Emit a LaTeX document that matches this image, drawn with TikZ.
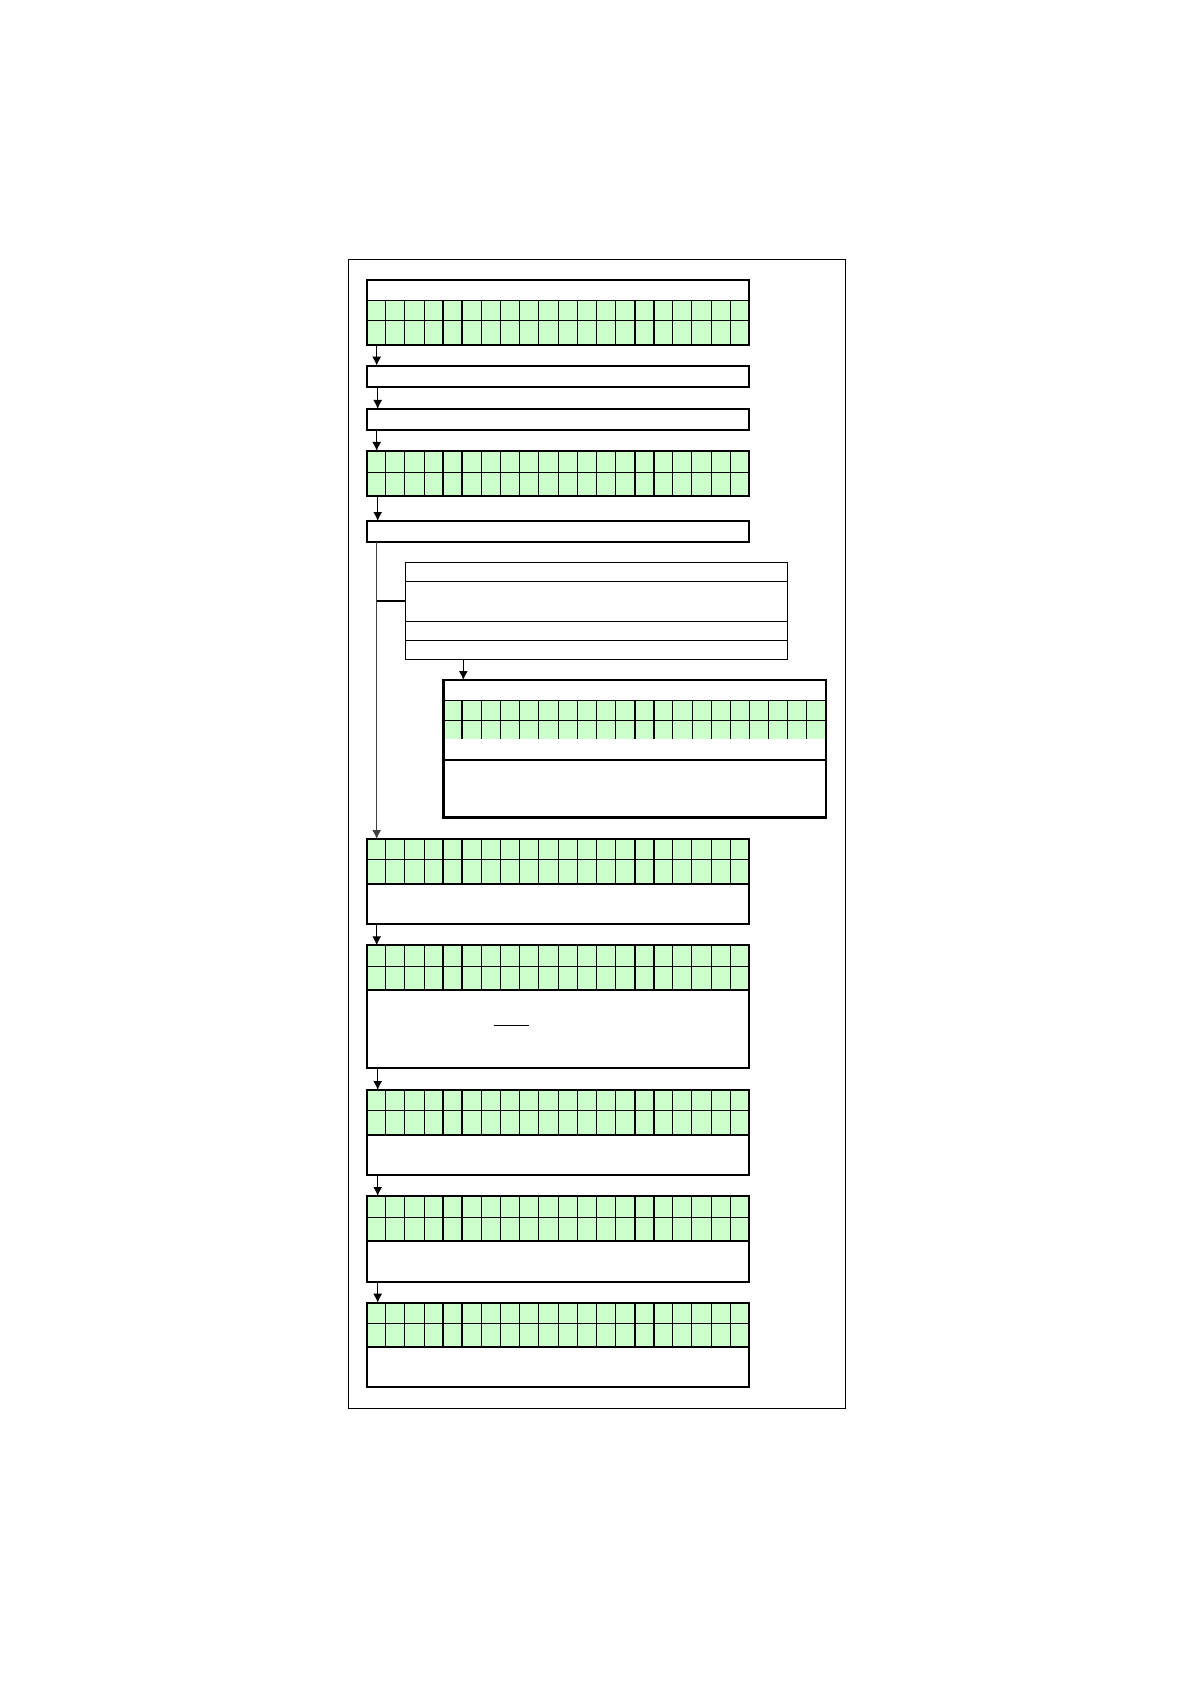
\documentclass[tikz,border=0pt]{standalone}
\usetikzlibrary{arrows.meta}
\definecolor{cellgreen}{HTML}{CCFFCC}
\tikzset{
  thinline/.style={line width=0.5pt},
  thickline/.style={line width=1pt},
  boxnode/.style={draw, line width=1pt, rectangle, inner sep=0pt, outer sep=0pt, anchor=north west, minimum width=191.3pt},
  thinbox/.style={draw, line width=0.5pt, rectangle, inner sep=0pt, outer sep=0pt, anchor=north west},
  flow/.style={line width=0.6pt, -{Latex[length=4.5pt,width=4.5pt]}},
}
% #1 x0, #2 ytop, #3 ymid, #4 ybot, #5 list of thick column lines
\newcommand\cellgrid[5]{%
  \fill[cellgreen] (#1,#2) rectangle ({#1+382.6},#4);
  \draw[thinline] (#1,#2) -- ({#1+382.6},#2);
  \draw[thinline] (#1,#3) -- ({#1+382.6},#3);
  \foreach \i in {1,...,19} {\draw[thinline] ({#1+\i*19.13},#2) -- ({#1+\i*19.13},#4);}
  \foreach \i in {#5} {\draw[thickline] ({#1+\i*19.13},#2) -- ({#1+\i*19.13},#4);}
}
\begin{document}
\begin{tikzpicture}[x=0.5pt,y=-0.5pt]
\useasboundingbox (0,0) rectangle (1191,1684);
\fill[white] (0,0) rectangle (1191,1684);
% outer frame
\node[thinbox, minimum width=248.35pt, minimum height=574.5pt] (frame) at (348.3,259.3) {};

% box 1
\cellgrid{366.7}{300.5}{320.2}{345}{4,5,14,15}
\node[boxnode, minimum height=32.5pt] (b1) at (366.7,280) {};
% box 2, 3
\node[boxnode, minimum height=10.8pt] (b2) at (366.7,365.7) {};
\node[boxnode, minimum height=10.5pt] (b3) at (366.7,409) {};
% box 4
\cellgrid{366.7}{451}{472.3}{495.7}{4,5,14,15}
\node[boxnode, minimum height=22.35pt] (b4) at (366.7,451) {};
% box 5
\node[boxnode, minimum height=10.5pt] (b5) at (366.7,521) {};
% box 6
\node[thinbox, minimum width=190.8pt, minimum height=48.5pt] (b6) at (405.7,562.3) {};
\draw[thinline] (405.7,581.3) -- (787.3,581.3);
\draw[thinline] (405.7,621.7) -- (787.3,621.7);
\draw[thinline] (405.7,640.7) -- (787.3,640.7);
% box 7
\cellgrid{443.3}{700.7}{720.3}{739.3}{1,10,11}
\draw[thickline] (443.3,760) -- (825.9,760);
\node[boxnode, line width=1.3pt, minimum height=68.65pt] (b7) at (443.3,680) {};
% box 8
\cellgrid{366.7}{839}{859.7}{884}{4,5,14,15}
\draw[thickline] (366.7,884) -- (749.3,884);
\node[boxnode, minimum height=42.35pt] (b8) at (366.7,839) {};
% box 9
\cellgrid{366.7}{945.3}{966.7}{990}{4,5,14,15}
\draw[thickline] (366.7,990) -- (749.3,990);
\node[boxnode, minimum height=61.5pt] (b9) at (366.7,945.3) {};
\draw[thinline] (494,1025.3) -- (529,1025.3);
% box 10
\cellgrid{366.7}{1090}{1110.7}{1135}{4,5,14,15}
\draw[thickline] (366.7,1135) -- (749.3,1135);
\node[boxnode, minimum height=42.5pt] (b10) at (366.7,1090) {};
% box 11
\cellgrid{366.7}{1196}{1217.3}{1241}{4,5,14,15}
\draw[thickline] (366.7,1241) -- (749.3,1241);
\node[boxnode, minimum height=42.85pt] (b11) at (366.7,1196) {};
% box 12
\cellgrid{366.7}{1302.7}{1323.3}{1347.3}{4,5,14,15}
\draw[thickline] (366.7,1347.3) -- (749.3,1347.3);
\node[boxnode, minimum height=42.3pt] (b12) at (366.7,1302.7) {};

% connectors
\draw[flow] ([xshift=5pt]b1.south west) -- ([xshift=5pt]b2.north west);
\draw[flow] ([xshift=5.5pt]b2.south west) -- ([xshift=5.5pt]b3.north west);
\draw[flow] ([xshift=5pt]b3.south west) -- ([xshift=5pt]b4.north west);
\draw[flow] ([xshift=5.5pt]b4.south west) -- ([xshift=5.5pt]b5.north west);
\draw[flow, draw=black!75] ([xshift=5pt]b5.south west) -- ([xshift=5pt]b8.north west);
\coordinate (br) at (376.7,600.7);
\draw[thickline] (br) -- (br -| b6.west);
\draw[flow] ([xshift=10pt]b7.north west |- b6.south) -- ([xshift=10pt]b7.north west);
\draw[flow] ([xshift=5pt]b8.south west) -- ([xshift=5pt]b9.north west);
\draw[flow] ([xshift=5.5pt]b9.south west) -- ([xshift=5.5pt]b10.north west);
\draw[flow] ([xshift=5.5pt]b10.south west) -- ([xshift=5.5pt]b11.north west);
\draw[flow] ([xshift=5.5pt]b11.south west) -- ([xshift=5.5pt]b12.north west);
\end{tikzpicture}
\end{document}
